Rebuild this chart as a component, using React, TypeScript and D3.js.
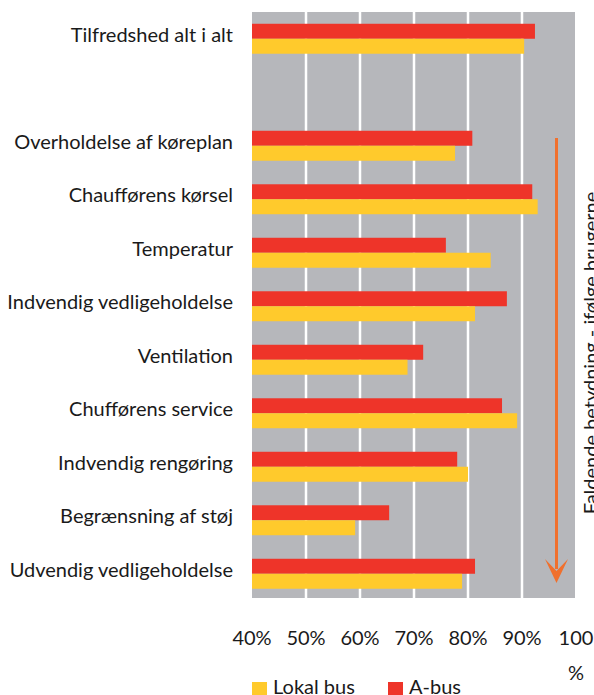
import React from "react";
import * as d3 from "d3";

// categories, top to bottom ("" = empty gap row)
const categories = [
  "Tilfredshed alt i alt",
  "",
  "Overholdelse af køreplan",
  "Chaufførens kørsel",
  "Temperatur",
  "Indvendig vedligeholdelse",
  "Ventilation",
  "Chufførens service",
  "Indvendig rengøring ",
  "Begrænsning af støj",
  "Udvendig vedligeholdelse",
];

const aBus = [92.4, null, 80.8, 91.9, 75.9, 87.2, 71.7, 86.3, 78.0, 65.4, 81.3];
const lokalBus = [90.4, null, 77.6, 92.9, 84.2, 81.3, 68.8, 89.1, 80.0, 59.1, 78.9];

const tickValues = [40, 50, 60, 70, 80, 90, 100];
const tickLabels = ["40%", "50%", "60%", "70%", "80%", "90%", "100\n%"];

const seriesNames = ["Lokal bus", "A-bus"];
const sideTitle = "Faldende betydning - ifølge brugerne";

const FONT = "Lato, 'Open Sans', sans-serif";
const RED = "#ee3429";
const YELLOW = "#ffca2c";
const GREY = "#b6b7bb";
const ORANGE = "#f0702d";
const INK = "#1a1a1a";

const App = () => {
  const width = 594;
  const height = 695;
  const plot = { left: 252, right: 576, top: 12, bottom: 598 };

  const x = d3.scaleLinear().domain([40, 100]).range([plot.left, plot.right]);

  const y = d3
    .scaleBand<number>()
    .domain(d3.range(categories.length))
    .range([plot.top, 600.5])
    .paddingInner(0.44)
    .paddingOuter(0.22);

  const half = y.bandwidth() / 2;

  // arrow geometry
  const ax = 556.5;
  const aTop = 138;
  const aTip = 583;

  return (
    <svg
      width={width}
      height={height}
      style={{ position: "absolute", left: 0, top: 0, fontFamily: FONT }}
    >
      {/* plot background */}
      <rect
        x={plot.left}
        y={plot.top}
        width={plot.right - plot.left - 1}
        height={plot.bottom - plot.top}
        fill={GREY}
      />

      {/* gridlines */}
      {tickValues.slice(1, -1).map((t) => (
        <line
          key={t}
          x1={x(t)}
          x2={x(t)}
          y1={plot.top}
          y2={plot.bottom}
          stroke="#fff"
          strokeWidth={2.5}
        />
      ))}

      {/* bars */}
      {categories.map((c, i) => {
        const y0 = y(i)!;
        return (
          <g key={i}>
            {aBus[i] != null && (
              <rect
                x={x(40)}
                y={y0}
                width={x(aBus[i] as number) - x(40)}
                height={half}
                fill={RED}
              />
            )}
            {lokalBus[i] != null && (
              <rect
                x={x(40)}
                y={y0 + half}
                width={x(lokalBus[i] as number) - x(40)}
                height={half}
                fill={YELLOW}
              />
            )}
          </g>
        );
      })}

      {/* category labels */}
      {categories.map((c, i) => (
        <text
          key={"l" + i}
          x={233}
          y={y(i)! + half - 5}
          textAnchor="end"
          dominantBaseline="central"
          fontSize={20}
          fill={INK}
        >
          {c}
        </text>
      ))}

      {/* x tick labels */}
      {tickValues.map((t, i) => (
        <text
          key={"t" + t}
          x={x(t)}
          y={645}
          textAnchor="middle"
          fontSize={20}
          fill={INK}
        >
          {tickLabels[i].split("\n").map((s, j) => (
            <tspan key={j} x={x(t)} dy={j === 0 ? 0 : 35}>
              {s}
            </tspan>
          ))}
        </text>
      ))}

      {/* arrow */}
      <line x1={ax} x2={ax} y1={aTop} y2={aTip - 14} stroke={ORANGE} strokeWidth={3} />
      <path
        d={`M${ax - 11.5},${aTip - 24} L${ax},${aTip} L${ax + 11.5},${aTip - 24} L${ax},${aTip - 12} Z`}
        fill={ORANGE}
      />

      {/* side title */}
      <text
        transform={`translate(598,353) rotate(-90)`}
        textAnchor="middle"
        fontSize={20}
        fill={INK}
      >
        {sideTitle}
      </text>

      {/* legend */}
      <rect x={252} y={682} width={15} height={13} fill={YELLOW} />
      <text x={273} y={694} fontSize={20} fill={INK}>
        {seriesNames[0]}
      </text>
      <rect x={388} y={682} width={15} height={13} fill={RED} />
      <text x={409} y={694} fontSize={20} fill={INK}>
        {seriesNames[1]}
      </text>
    </svg>
  );
};

export default App;
